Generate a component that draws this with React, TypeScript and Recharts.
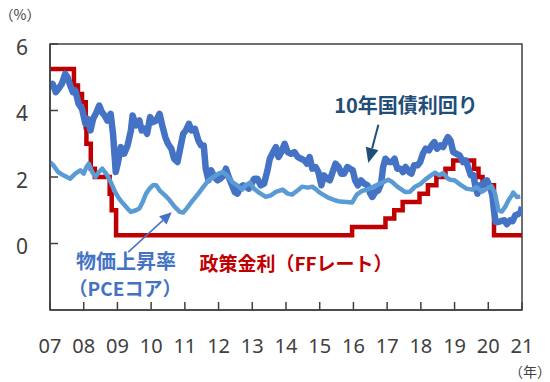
import React from 'react';
import { LineChart, Line, XAxis, YAxis, ReferenceLine, ReferenceArea } from 'recharts';

// 10-year Treasury yield (%)
const yieldT = [
  2007.00, 2007.08, 2007.17, 2007.25, 2007.35, 2007.45, 2007.52, 2007.60, 2007.68, 2007.75, 2007.85, 2007.95,
  2008.05, 2008.12, 2008.20, 2008.28, 2008.38, 2008.46, 2008.54, 2008.62, 2008.70, 2008.80, 2008.87, 2008.95,
  2009.02, 2009.10, 2009.20, 2009.30, 2009.40, 2009.45, 2009.55, 2009.65, 2009.72, 2009.80, 2009.88, 2009.97,
  2010.05, 2010.15, 2010.25, 2010.33, 2010.42, 2010.50, 2010.60, 2010.68, 2010.78, 2010.86, 2010.95,
  2011.03, 2011.12, 2011.20, 2011.30, 2011.40, 2011.48, 2011.56, 2011.62, 2011.70, 2011.78, 2011.88, 2011.97,
  2012.05, 2012.15, 2012.22, 2012.30, 2012.40, 2012.48, 2012.56, 2012.65, 2012.73, 2012.82, 2012.90, 2012.98,
  2013.06, 2013.15, 2013.25, 2013.35, 2013.45, 2013.52, 2013.62, 2013.70, 2013.78, 2013.86, 2013.96,
  2014.05, 2014.15, 2014.25, 2014.35, 2014.45, 2014.55, 2014.62, 2014.70, 2014.78, 2014.88, 2014.96,
  2015.05, 2015.12, 2015.22, 2015.30, 2015.40, 2015.47, 2015.56, 2015.64, 2015.72, 2015.82, 2015.90, 2015.98,
  2016.05, 2016.13, 2016.22, 2016.32, 2016.42, 2016.50, 2016.56, 2016.65, 2016.74, 2016.82, 2016.88, 2016.95,
  2017.05, 2017.15, 2017.22, 2017.30, 2017.40, 2017.47, 2017.55, 2017.65, 2017.72, 2017.80, 2017.90, 2017.98,
  2018.06, 2018.14, 2018.24, 2018.32, 2018.40, 2018.48, 2018.58, 2018.66, 2018.75, 2018.80, 2018.88, 2018.96,
  2019.05, 2019.15, 2019.25, 2019.33, 2019.40, 2019.48, 2019.56, 2019.62, 2019.68, 2019.75, 2019.82, 2019.88, 2019.96,
  2020.05, 2020.12, 2020.18, 2020.22, 2020.30, 2020.40, 2020.48, 2020.55, 2020.65, 2020.72, 2020.80, 2020.88, 2020.96, 2021.00,
];
const yieldV = [
  4.70, 4.80, 4.55, 4.65, 4.80, 5.10, 5.00, 4.75, 4.55, 4.60, 4.20, 4.05,
  3.60, 3.75, 3.40, 3.75, 3.95, 4.15, 3.95, 3.85, 3.70, 3.90, 3.30, 2.15,
  2.45, 2.90, 2.70, 2.95, 3.40, 3.85, 3.55, 3.70, 3.40, 3.45, 3.30, 3.80,
  3.65, 3.70, 3.90, 3.55, 3.20, 3.00, 2.85, 2.55, 2.45, 2.85, 3.30,
  3.40, 3.60, 3.40, 3.45, 3.10, 2.95, 2.95, 2.25, 1.90, 2.20, 2.00, 1.90,
  1.95, 2.05, 2.25, 2.00, 1.75, 1.55, 1.50, 1.70, 1.75, 1.70, 1.65, 1.80,
  1.95, 1.95, 1.75, 1.80, 2.20, 2.55, 2.75, 2.90, 2.60, 2.75, 3.00,
  2.75, 2.70, 2.75, 2.60, 2.55, 2.50, 2.40, 2.60, 2.25, 2.30, 2.15,
  1.75, 2.05, 1.95, 1.90, 2.20, 2.40, 2.30, 2.10, 2.10, 2.30, 2.25, 2.20,
  1.90, 1.75, 1.90, 1.80, 1.75, 1.50, 1.40, 1.55, 1.60, 1.80, 2.30, 2.55,
  2.45, 2.45, 2.55, 2.25, 2.25, 2.15, 2.30, 2.15, 2.10, 2.35, 2.35, 2.45,
  2.70, 2.85, 2.80, 2.95, 3.05, 2.85, 2.95, 2.90, 3.10, 3.20, 3.10, 2.75,
  2.70, 2.65, 2.45, 2.50, 2.30, 2.05, 2.05, 1.70, 1.50, 1.75, 1.75, 1.85, 1.90,
  1.70, 1.45, 0.90, 0.65, 0.65, 0.68, 0.70, 0.58, 0.70, 0.67, 0.85, 0.88, 0.95, 1.10,
];

// Core PCE inflation (%)
const pceT = [
  2007.00, 2007.10, 2007.24, 2007.40, 2007.60, 2007.75, 2007.90, 2008.00, 2008.08, 2008.15, 2008.25, 2008.35,
  2008.45, 2008.55, 2008.70, 2008.80, 2008.93, 2009.05, 2009.17, 2009.30, 2009.40, 2009.55, 2009.65, 2009.75,
  2009.85, 2009.95, 2010.05, 2010.15, 2010.25, 2010.41, 2010.55, 2010.70, 2010.85, 2010.95, 2011.05, 2011.20,
  2011.40, 2011.55, 2011.70, 2011.85, 2012.00, 2012.12, 2012.25, 2012.40, 2012.55, 2012.70, 2012.80, 2012.93,
  2013.05, 2013.20, 2013.40, 2013.55, 2013.70, 2013.90, 2014.05, 2014.18, 2014.35, 2014.48, 2014.65, 2014.78,
  2014.90, 2015.00, 2015.25, 2015.45, 2015.60, 2015.80, 2015.96, 2016.10, 2016.25, 2016.40, 2016.60, 2016.85,
  2017.03, 2017.15, 2017.30, 2017.53, 2017.68, 2017.83, 2018.00, 2018.13, 2018.30, 2018.42, 2018.55, 2018.66,
  2018.80, 2018.87, 2019.00, 2019.17, 2019.35, 2019.52, 2019.65, 2019.82, 2020.00, 2020.10, 2020.20, 2020.30,
  2020.40, 2020.50, 2020.60, 2020.70, 2020.74, 2020.85, 2020.95,
];
const pceV = [
  2.45, 2.35, 2.15, 2.05, 1.95, 2.10, 2.20, 2.10, 2.30, 2.40, 2.15, 2.00,
  2.15, 2.25, 2.05, 1.85, 1.55, 1.35, 1.20, 1.05, 0.95, 1.00, 1.05, 1.25,
  1.50, 1.65, 1.75, 1.75, 1.60, 1.45, 1.30, 1.10, 0.95, 0.93, 1.05, 1.25,
  1.50, 1.70, 1.90, 2.00, 2.10, 2.15, 2.05, 1.85, 1.75, 1.62, 1.75, 1.83,
  1.65, 1.53, 1.40, 1.45, 1.55, 1.62, 1.50, 1.47, 1.60, 1.71, 1.68, 1.71,
  1.62, 1.53, 1.38, 1.30, 1.26, 1.25, 1.23, 1.47, 1.58, 1.62, 1.71, 1.83,
  1.92, 1.85, 1.71, 1.55, 1.56, 1.71, 1.80, 1.92, 2.05, 2.13, 2.05, 2.12,
  1.95, 1.92, 1.90, 1.77, 1.65, 1.62, 1.70, 1.56, 1.68, 1.72, 1.50, 1.00,
  0.96, 1.10, 1.30, 1.45, 1.53, 1.40, 1.41,
];

// Policy rate (FF rate, %), step changes
const ffT = [
  2007.00, 2007.71, 2007.83, 2007.95, 2008.06, 2008.08, 2008.21, 2008.33, 2008.77, 2008.83, 2008.96,
  2015.96, 2016.95, 2017.21, 2017.46, 2017.96, 2018.21, 2018.46, 2018.73, 2018.96, 2019.58, 2019.71,
  2019.83, 2020.17, 2021.00,
];
const ffV = [
  5.25, 4.75, 4.50, 4.25, 3.50, 3.00, 2.25, 2.00, 1.50, 1.00, 0.25,
  0.50, 0.75, 1.00, 1.25, 1.50, 1.75, 2.00, 2.25, 2.50, 2.25, 2.00,
  1.75, 0.25, 0.25,
];

const yearTicks = [2007, 2008, 2009, 2010, 2011, 2012, 2013, 2014, 2015, 2016, 2017, 2018, 2019, 2020, 2021];
const yTicks = [0, 2, 4, 6];

const toData = (t: number[], v: number[]) => t.map((x, i) => ({ t: x, v: v[i] }));
const yieldData = toData(yieldT, yieldV);
const pceData = toData(pceT, pceV);
const ffData = toData(ffT, ffV);

const AXIS = '#404040';
const JP = '"Noto Sans CJK JP", "Noto Sans", sans-serif';
const NUM = '"Noto Sans", "DejaVu Sans", sans-serif';

const XTick = (props: any) => {
  const { x, y, payload } = props;
  const label = String(payload.value % 100).padStart(2, '0');
  return (
    <text x={x} y={y + 51} textAnchor="middle" fontFamily={NUM} fontSize={20} fill={AXIS}>
      {label}
    </text>
  );
};

const YTick = (props: any) => {
  const { y, payload } = props;
  return (
    <text x={28} y={y + 10.5} textAnchor="end" fontFamily={NUM} fontSize={21} fill={AXIS}>
      {payload.value}
    </text>
  );
};

const makeArrow = (color: string, width: number, headLen: number, headHalf: number) => (props: any) => {
  const { x1, y1, x2, y2 } = props;
  if ([x1, y1, x2, y2].some((v) => typeof v !== 'number' || isNaN(v))) return <g />;
  const dx = x2 - x1;
  const dy = y2 - y1;
  const len = Math.sqrt(dx * dx + dy * dy);
  const ux = dx / len;
  const uy = dy / len;
  const bx = x2 - ux * headLen;
  const by = y2 - uy * headLen;
  const px = -uy;
  const py = ux;
  const pts = `${x2},${y2} ${bx + px * headHalf},${by + py * headHalf} ${bx - px * headHalf},${by - py * headHalf}`;
  return (
    <g>
      <line x1={x1} y1={y1} x2={bx} y2={by} stroke={color} strokeWidth={width} />
      <polygon points={pts} fill={color} />
    </g>
  );
};

export default function App() {
  return (
    <div style={{ position: 'absolute', left: 0, top: 0, width: 550, height: 382, background: '#fff' }}>
      <LineChart
        width={550}
        height={382}
        margin={{ top: 44, right: 28, bottom: 32, left: 0 }}
      >
        <XAxis
          dataKey="t"
          type="number"
          domain={[2007, 2021]}
          ticks={yearTicks}
          interval={0}
          allowDataOverflow
          height={40}
          tickSize={-8}
          tickMargin={0}
          tick={<XTick />}
          axisLine={{ stroke: AXIS, strokeWidth: 1.5 }}
          tickLine={{ stroke: AXIS, strokeWidth: 1.5 }}
        />
        <YAxis
          type="number"
          domain={[-2, 6]}
          ticks={yTicks}
          interval={0}
          allowDataOverflow
          width={50}
          tickSize={-8}
          tickMargin={0}
          tick={<YTick />}
          axisLine={{ stroke: AXIS, strokeWidth: 1.5 }}
          tickLine={{ stroke: AXIS, strokeWidth: 1.5 }}
        />
        <ReferenceArea x1={2007} x2={2021} y1={-2} y2={6} fill="none" stroke={AXIS} strokeWidth={1.5} ifOverflow="visible" />
        <Line data={ffData} dataKey="v" type="stepAfter" stroke="#C00000" strokeWidth={4.5} dot={false} isAnimationActive={false} />
        <Line data={yieldData} dataKey="v" type="linear" stroke="#4472C4" strokeWidth={6.5} strokeLinejoin="round" dot={false} isAnimationActive={false} />
        <Line data={pceData} dataKey="v" type="linear" stroke="#5B9BD5" strokeWidth={4.5} strokeLinejoin="round" dot={false} isAnimationActive={false} />
        <ReferenceLine
          segment={[{ x: 2016.74, y: 3.57 }, { x: 2016.44, y: 2.42 }]}
          ifOverflow="visible"
          shape={makeArrow('#1F4E79', 2, 15, 6.5)}
        />
        <ReferenceLine
          segment={[{ x: 2009.32, y: -0.26 }, { x: 2010.61, y: 0.94 }]}
          ifOverflow="visible"
          shape={makeArrow('#4472C4', 1.5, 12, 5.5)}
        />
      </LineChart>
      <svg width={550} height={382} style={{ position: 'absolute', left: 0, top: 0, pointerEvents: 'none' }}>
        <text x={20} y={20} textAnchor="middle" fontFamily={JP} fontSize={14} fill={AXIS}>（%）</text>
        <text x={530} y={377} textAnchor="middle" fontFamily={JP} fontSize={14} fill={AXIS}>（年）</text>
        <text x={406} y={113} textAnchor="middle" fontFamily={JP} fontWeight="bold" fontSize={20} fill="#1F4E79">10年国債利回り</text>
        <text x={126} y={269} textAnchor="middle" fontFamily={JP} fontWeight="bold" fontSize={20} fill="#4472C4">物価上昇率</text>
        <text x={125} y={296} textAnchor="middle" fontFamily={JP} fontWeight="bold" fontSize={19} fill="#4472C4">（PCEコア）</text>
        <text x={296} y={271} textAnchor="middle" fontFamily={JP} fontWeight="bold" fontSize={19} fill="#C00000">政策金利（FFレート）</text>
      </svg>
    </div>
  );
}
